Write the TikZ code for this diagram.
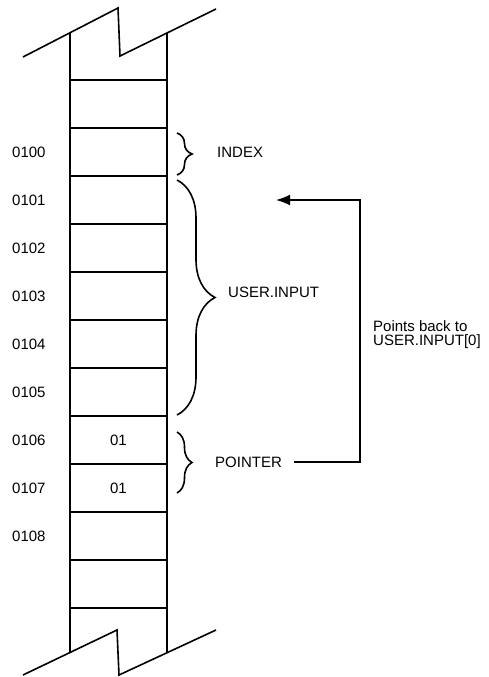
\documentclass[tikz,border=0pt]{standalone}
\usepackage{fontspec}
\setmainfont{Liberation Sans}
\usepackage{tikz}
\usetikzlibrary{arrows.meta, decorations.pathreplacing}

\tikzset{
  lbl/.style={anchor=west, inner sep=0pt},
  wall/.style={line width=1.6pt},
  curly/.style={line width=1.6pt, decorate, decoration={brace, amplitude=#1}},
}

\begin{document}
\begin{tikzpicture}[x=1pt, y=-1pt, font=\fontsize{15}{14}\selectfont]
  \useasboundingbox (0,0) rectangle (489,677);
  % break marks
  \draw[wall] (23,57) -- (118,8) -- (120,56) -- (216,9);
  \draw[wall] (23,675) -- (117,630) -- (119,675) -- (216,630);
  % memory column
  \draw[wall] (70,33) -- (70,653);
  \draw[wall] (167,33) -- (167,653);
  \foreach \y in {80,128,...,608}
    \draw[wall] (70,\y) -- (167,\y);
  % addresses and contents
  \foreach \n in {0,...,8}
    \node[lbl] (a\n) at (12, 152+48*\n) {010\n};
  \node (v6) at (118.5,440) {01};
  \node (v7) at (118.5,488) {01};
  % braces
  \draw[curly=15pt] (177,133) -- (177,175);
  \draw[curly=38pt] (177,180) -- (177,415);
  \draw[curly=15pt] (177,432) -- (177,493);
  \node[lbl] (idx) at (217,152) {INDEX};
  \node[lbl] (usr) at (228,292) {USER.INPUT};
  \node[lbl] (ptr) at (215,462) {POINTER};
  \node[lbl, align=left] (note) at (373,335) {Points back to\\USER.INPUT[0]};
  % pointer arrow
  \coordinate (back) at (276,200);
  \draw[wall, -{Latex[length=14pt,width=11pt]}] ([xshift=12pt]ptr.east) -| (360,200) -- (back);
\end{tikzpicture}
\end{document}
